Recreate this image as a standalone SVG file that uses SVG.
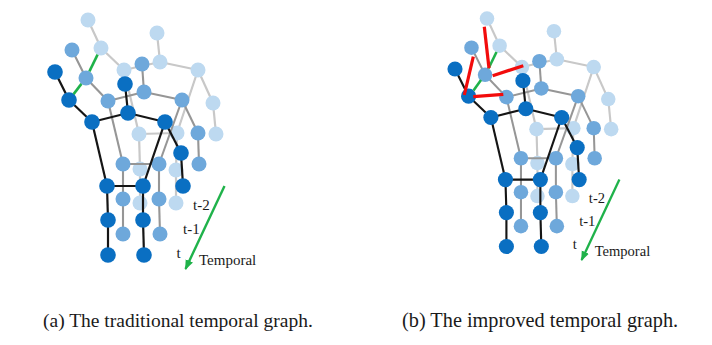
<svg xmlns="http://www.w3.org/2000/svg" xmlns:xlink="http://www.w3.org/1999/xlink" width="712" height="345" viewBox="0 0 712 345">
<defs>
<style>
.eL{stroke:#c8c8c8;stroke-width:2.2;fill:none}
.eM{stroke:#969696;stroke-width:2.1;fill:none}
.eD{stroke:#151515;stroke-width:2.2;fill:none}
.nL circle{fill:#bdd9f0}
.nM circle{fill:#6ea8db}
.nD circle{fill:#0a6fc2}
.gl{stroke:#1fb24a;stroke-width:2.6;fill:none}
.rl{stroke:#f20c0c;stroke-width:3.2;fill:none}
.ax{stroke:#1fb24a;stroke-width:2.4;fill:none}
text{font-family:"Liberation Serif","Times New Roman",serif;fill:#1a1a1a}
.lbl{font-size:15px}
.cap{font-size:19.5px}
</style>
<marker id="arr" markerUnits="userSpaceOnUse" markerWidth="10" markerHeight="10" viewBox="0 0 10 10" refX="9" refY="5" orient="auto">
<path d="M0,1 L10,5 L0,9 z" fill="#1fb24a"/>
</marker>
</defs>

<!-- ===================== Graph (a) ===================== -->
<g id="graphA">
<g id="a-edges-t2" class="eL">
<line x1="88" y1="20" x2="101" y2="48"/>
<line x1="101" y1="48" x2="124" y2="70"/>
<line x1="124" y1="70" x2="160" y2="62"/>
<line x1="160" y1="62" x2="157" y2="33"/>
<line x1="160" y1="62" x2="198" y2="70"/>
<line x1="198" y1="70" x2="213" y2="103"/>
<line x1="213" y1="103" x2="216" y2="134"/>
<line x1="124" y1="70" x2="139" y2="134"/>
<line x1="198" y1="70" x2="177" y2="133"/>
<line x1="139" y1="134" x2="177" y2="133"/>
<line x1="139" y1="134" x2="140" y2="169"/>
<line x1="140" y1="169" x2="140" y2="203"/>
<line x1="177" y1="133" x2="176" y2="170"/>
<line x1="176" y1="170" x2="176" y2="203"/>
</g>
<g id="a-nodes-t2" class="nL">
<g id="a-t2-head"><circle cx="88" cy="20" r="7.5"/></g>
<g id="a-t2-neck"><circle cx="101" cy="48" r="7.5"/></g>
<g id="a-t2-lsh"><circle cx="124" cy="70" r="7.5"/></g>
<g id="a-t2-ctr"><circle cx="160" cy="62" r="7.5"/></g>
<g id="a-t2-top"><circle cx="157" cy="33" r="7.5"/></g>
<g id="a-t2-rsh"><circle cx="198" cy="70" r="7.5"/></g>
<g id="a-t2-rel"><circle cx="213" cy="103" r="7.5"/></g>
<g id="a-t2-rha"><circle cx="216" cy="134" r="7.5"/></g>
<g id="a-t2-lhip"><circle cx="139" cy="134" r="7.5"/></g>
<g id="a-t2-rhip"><circle cx="177" cy="133" r="7.5"/></g>
<g id="a-t2-lkn"><circle cx="140" cy="169" r="7.5"/></g>
<g id="a-t2-rkn"><circle cx="176" cy="170" r="7.5"/></g>
<g id="a-t2-lft"><circle cx="140" cy="203" r="7.5"/></g>
<g id="a-t2-rft"><circle cx="176" cy="203" r="7.5"/></g>
</g>
<g id="a-edges-t1" class="eM">
<line x1="72" y1="50" x2="86" y2="78"/>
<line x1="86" y1="78" x2="108" y2="101"/>
<line x1="108" y1="101" x2="144" y2="92"/>
<line x1="144" y1="92" x2="142" y2="64"/>
<line x1="144" y1="92" x2="182" y2="100"/>
<line x1="182" y1="100" x2="198" y2="133"/>
<line x1="198" y1="133" x2="199" y2="164"/>
<line x1="108" y1="101" x2="123" y2="164"/>
<line x1="182" y1="100" x2="159" y2="164"/>
<line x1="123" y1="164" x2="159" y2="164"/>
<line x1="123" y1="164" x2="123" y2="199"/>
<line x1="123" y1="199" x2="123" y2="234"/>
<line x1="159" y1="164" x2="159" y2="199"/>
<line x1="159" y1="199" x2="160" y2="234"/>
</g>
<g id="a-nodes-t1" class="nM">
<g id="a-t1-head"><circle cx="72" cy="50" r="7.5"/></g>
<g id="a-t1-neck"><circle cx="86" cy="78" r="7.5"/></g>
<g id="a-t1-lsh"><circle cx="108" cy="101" r="7.5"/></g>
<g id="a-t1-ctr"><circle cx="144" cy="92" r="7.5"/></g>
<g id="a-t1-top"><circle cx="142" cy="64" r="7.5"/></g>
<g id="a-t1-rsh"><circle cx="182" cy="100" r="7.5"/></g>
<g id="a-t1-rel"><circle cx="198" cy="133" r="7.5"/></g>
<g id="a-t1-rha"><circle cx="199" cy="164" r="7.5"/></g>
<g id="a-t1-lhip"><circle cx="123" cy="164" r="7.5"/></g>
<g id="a-t1-rhip"><circle cx="159" cy="164" r="7.5"/></g>
<g id="a-t1-lkn"><circle cx="123" cy="199" r="7.5"/></g>
<g id="a-t1-rkn"><circle cx="159" cy="199" r="7.5"/></g>
<g id="a-t1-lft"><circle cx="123" cy="234" r="7.5"/></g>
<g id="a-t1-rft"><circle cx="160" cy="234" r="7.5"/></g>
</g>
<g id="a-edges-t" class="eD">
<line x1="55" y1="72" x2="69" y2="100"/>
<line x1="69" y1="100" x2="92" y2="122"/>
<line x1="92" y1="122" x2="128" y2="113"/>
<line x1="128" y1="113" x2="125" y2="84"/>
<line x1="128" y1="113" x2="165" y2="122"/>
<line x1="165" y1="122" x2="181" y2="153"/>
<line x1="181" y1="153" x2="183" y2="186"/>
<line x1="92" y1="122" x2="107" y2="186"/>
<line x1="165" y1="122" x2="143" y2="186"/>
<line x1="107" y1="186" x2="143" y2="186"/>
<line x1="107" y1="186" x2="108" y2="220"/>
<line x1="108" y1="220" x2="108" y2="255"/>
<line x1="143" y1="186" x2="143" y2="220"/>
<line x1="143" y1="220" x2="144" y2="255"/>
</g>
<g id="a-nodes-t" class="nD">
<g id="a-t-head"><circle cx="55" cy="72" r="7.8"/></g>
<g id="a-t-neck"><circle cx="69" cy="100" r="7.8"/></g>
<g id="a-t-lsh"><circle cx="92" cy="122" r="7.8"/></g>
<g id="a-t-ctr"><circle cx="128" cy="113" r="7.8"/></g>
<g id="a-t-top"><circle cx="125" cy="84" r="7.8"/></g>
<g id="a-t-rsh"><circle cx="165" cy="122" r="7.8"/></g>
<g id="a-t-rel"><circle cx="181" cy="153" r="7.8"/></g>
<g id="a-t-rha"><circle cx="183" cy="186" r="7.8"/></g>
<g id="a-t-lhip"><circle cx="107" cy="186" r="7.8"/></g>
<g id="a-t-rhip"><circle cx="143" cy="186" r="7.8"/></g>
<g id="a-t-lkn"><circle cx="108" cy="220" r="7.8"/></g>
<g id="a-t-rkn"><circle cx="143" cy="220" r="7.8"/></g>
<g id="a-t-lft"><circle cx="108" cy="255" r="7.8"/></g>
<g id="a-t-rft"><circle cx="144" cy="255" r="7.8"/></g>
</g>
<g id="a-links">
<line class="gl" x1="73.6" y1="94.1" x2="81.4" y2="83.9"/>
<line class="gl" x1="89.4" y1="71.3" x2="97.6" y2="54.7"/>
</g>
<g id="a-axis">
<line class="ax" x1="224.5" y1="186" x2="185.5" y2="269" marker-end="url(#arr)"/>
<text class="lbl" x="193" y="210">t-2</text>
<text class="lbl" x="183" y="234">t-1</text>
<text class="lbl" x="176.5" y="258">t</text>
<text class="lbl" x="199" y="265">Temporal</text>
</g>
</g>

<!-- ===================== Graph (b) ===================== -->
<g id="graphB">
<g transform="translate(401.65,-0.84) scale(0.97)">
<g id="b-edges-t2" class="eL">
<line x1="88" y1="20" x2="101" y2="48"/>
<line x1="101" y1="48" x2="124" y2="70"/>
<line x1="124" y1="70" x2="160" y2="62"/>
<line x1="160" y1="62" x2="157" y2="33"/>
<line x1="160" y1="62" x2="198" y2="70"/>
<line x1="198" y1="70" x2="213" y2="103"/>
<line x1="213" y1="103" x2="216" y2="134"/>
<line x1="124" y1="70" x2="139" y2="134"/>
<line x1="198" y1="70" x2="177" y2="133"/>
<line x1="139" y1="134" x2="177" y2="133"/>
<line x1="139" y1="134" x2="140" y2="169"/>
<line x1="140" y1="169" x2="140" y2="203"/>
<line x1="177" y1="133" x2="176" y2="170"/>
<line x1="176" y1="170" x2="176" y2="203"/>
</g>
<g id="b-nodes-t2" class="nL">
<g id="b-t2-head"><circle cx="88" cy="20" r="7.5"/></g>
<g id="b-t2-neck"><circle cx="101" cy="48" r="7.5"/></g>
<g id="b-t2-lsh"><circle cx="124" cy="70" r="7.5"/></g>
<g id="b-t2-ctr"><circle cx="160" cy="62" r="7.5"/></g>
<g id="b-t2-top"><circle cx="157" cy="33" r="7.5"/></g>
<g id="b-t2-rsh"><circle cx="198" cy="70" r="7.5"/></g>
<g id="b-t2-rel"><circle cx="213" cy="103" r="7.5"/></g>
<g id="b-t2-rha"><circle cx="216" cy="134" r="7.5"/></g>
<g id="b-t2-lhip"><circle cx="139" cy="134" r="7.5"/></g>
<g id="b-t2-rhip"><circle cx="177" cy="133" r="7.5"/></g>
<g id="b-t2-lkn"><circle cx="140" cy="169" r="7.5"/></g>
<g id="b-t2-rkn"><circle cx="176" cy="170" r="7.5"/></g>
<g id="b-t2-lft"><circle cx="140" cy="203" r="7.5"/></g>
<g id="b-t2-rft"><circle cx="176" cy="203" r="7.5"/></g>
</g>
<g id="b-edges-t1" class="eM">
<line x1="72" y1="50" x2="86" y2="78"/>
<line x1="86" y1="78" x2="108" y2="101"/>
<line x1="108" y1="101" x2="144" y2="92"/>
<line x1="144" y1="92" x2="142" y2="64"/>
<line x1="144" y1="92" x2="182" y2="100"/>
<line x1="182" y1="100" x2="198" y2="133"/>
<line x1="198" y1="133" x2="199" y2="164"/>
<line x1="108" y1="101" x2="123" y2="164"/>
<line x1="182" y1="100" x2="159" y2="164"/>
<line x1="123" y1="164" x2="159" y2="164"/>
<line x1="123" y1="164" x2="123" y2="199"/>
<line x1="123" y1="199" x2="123" y2="234"/>
<line x1="159" y1="164" x2="159" y2="199"/>
<line x1="159" y1="199" x2="160" y2="234"/>
</g>
<g id="b-nodes-t1" class="nM">
<g id="b-t1-head"><circle cx="72" cy="50" r="7.5"/></g>
<g id="b-t1-neck"><circle cx="86" cy="78" r="7.5"/></g>
<g id="b-t1-lsh"><circle cx="108" cy="101" r="7.5"/></g>
<g id="b-t1-ctr"><circle cx="144" cy="92" r="7.5"/></g>
<g id="b-t1-top"><circle cx="142" cy="64" r="7.5"/></g>
<g id="b-t1-rsh"><circle cx="182" cy="100" r="7.5"/></g>
<g id="b-t1-rel"><circle cx="198" cy="133" r="7.5"/></g>
<g id="b-t1-rha"><circle cx="199" cy="164" r="7.5"/></g>
<g id="b-t1-lhip"><circle cx="123" cy="164" r="7.5"/></g>
<g id="b-t1-rhip"><circle cx="159" cy="164" r="7.5"/></g>
<g id="b-t1-lkn"><circle cx="123" cy="199" r="7.5"/></g>
<g id="b-t1-rkn"><circle cx="159" cy="199" r="7.5"/></g>
<g id="b-t1-lft"><circle cx="123" cy="234" r="7.5"/></g>
<g id="b-t1-rft"><circle cx="160" cy="234" r="7.5"/></g>
</g>
<g id="b-edges-t" class="eD">
<line x1="55" y1="72" x2="69" y2="100"/>
<line x1="69" y1="100" x2="92" y2="122"/>
<line x1="92" y1="122" x2="128" y2="113"/>
<line x1="128" y1="113" x2="125" y2="84"/>
<line x1="128" y1="113" x2="165" y2="122"/>
<line x1="165" y1="122" x2="181" y2="153"/>
<line x1="181" y1="153" x2="183" y2="186"/>
<line x1="92" y1="122" x2="107" y2="186"/>
<line x1="165" y1="122" x2="143" y2="186"/>
<line x1="107" y1="186" x2="143" y2="186"/>
<line x1="107" y1="186" x2="108" y2="220"/>
<line x1="108" y1="220" x2="108" y2="255"/>
<line x1="143" y1="186" x2="143" y2="220"/>
<line x1="143" y1="220" x2="144" y2="255"/>
</g>
<g id="b-nodes-t" class="nD">
<g id="b-t-head"><circle cx="55" cy="72" r="7.8"/></g>
<g id="b-t-neck"><circle cx="69" cy="100" r="7.8"/></g>
<g id="b-t-lsh"><circle cx="92" cy="122" r="7.8"/></g>
<g id="b-t-ctr"><circle cx="128" cy="113" r="7.8"/></g>
<g id="b-t-top"><circle cx="125" cy="84" r="7.8"/></g>
<g id="b-t-rsh"><circle cx="165" cy="122" r="7.8"/></g>
<g id="b-t-rel"><circle cx="181" cy="153" r="7.8"/></g>
<g id="b-t-rha"><circle cx="183" cy="186" r="7.8"/></g>
<g id="b-t-lhip"><circle cx="107" cy="186" r="7.8"/></g>
<g id="b-t-rhip"><circle cx="143" cy="186" r="7.8"/></g>
<g id="b-t-lkn"><circle cx="108" cy="220" r="7.8"/></g>
<g id="b-t-rkn"><circle cx="143" cy="220" r="7.8"/></g>
<g id="b-t-lft"><circle cx="108" cy="255" r="7.8"/></g>
<g id="b-t-rft"><circle cx="144" cy="255" r="7.8"/></g>
</g>
<g id="b-axis">
<line class="ax" x1="224.5" y1="186" x2="185.5" y2="269" marker-end="url(#arr)"/>
<text class="lbl" x="193" y="210">t-2</text>
<text class="lbl" x="183" y="234">t-1</text>
<text class="lbl" x="176.5" y="258">t</text>
<text class="lbl" x="199" y="265">Temporal</text>
</g>
</g>
<g id="b-links">
<line class="gl" x1="473.5" y1="90.5" x2="481" y2="80"/>
<line class="gl" x1="488.5" y1="68.5" x2="496.5" y2="52"/>
<line class="rl" x1="484.3" y1="26.7" x2="489" y2="68.3"/>
<line class="rl" x1="473.3" y1="56.7" x2="464.3" y2="95"/>
<line class="rl" x1="492.7" y1="75.7" x2="523.3" y2="65.7"/>
<line class="rl" x1="473.3" y1="96.7" x2="503.3" y2="94.3"/>
</g>
</g>

<g id="captions">
<text class="cap" x="43" y="327">(a) The traditional temporal graph.</text>
<text class="cap" x="402" y="327" style="font-size:20.3px">(b) The improved temporal graph.</text>
</g>
</svg>
